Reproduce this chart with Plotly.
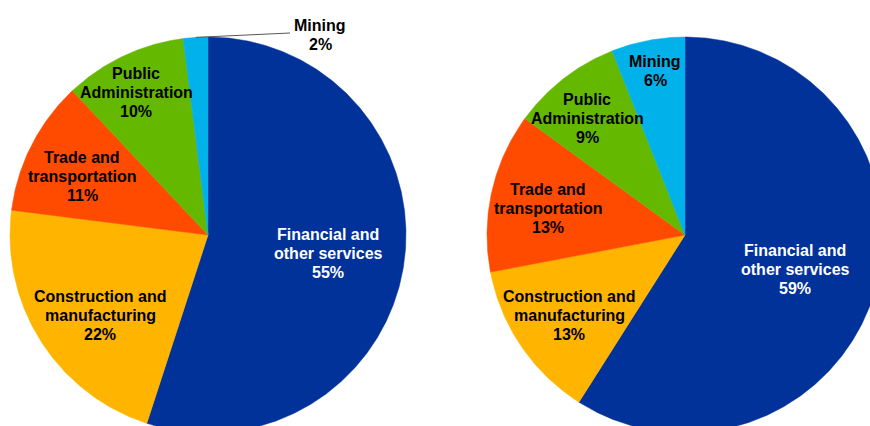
import numpy as np
import plotly.graph_objects as go

# Sector breakdown shown in the two pies (percent of total)
sectors = ["Financial and other services", "Construction and manufacturing",
           "Trade and transportation", "Public Administration", "Mining"]
label_lines = [["Financial and", "other services"],
               ["Construction and", "manufacturing"],
               ["Trade and", "transportation"],
               ["Public", "Administration"],
               ["Mining"]]
left_shares = [55, 22, 11, 10, 2]
right_shares = [59, 13, 13, 9, 6]
colors = ["#003299", "#FFB400", "#FF4B00", "#65B800", "#00B1EA"]
text_colors = ["white", "black", "black", "black", "black"]

# Layout of the two pies, in pixel units of the 870x426 canvas
W, H = 870, 426
RADIUS = 198
pies = [
    dict(shares=left_shares, center=(208, 235),
         labels=[(328, 253), (100, 315), (82, 176), (136, 92), (320, 35)],
         leader=4),
    dict(shares=right_shares, center=(685, 235),
         labels=[(795, 269), (569, 315), (548, 208), (587, 118), (655, 71)],
         leader=None),
]
LINE_GAP = 19
FONT = dict(family="Liberation Sans, Arial, sans-serif", size=16)

fig = go.Figure()
annotations = []


def point(center, angle_deg, r):
    a = np.radians(angle_deg)
    return center[0] + r * np.sin(a), center[1] - r * np.cos(a)


for pie in pies:
    cx, cy = pie["center"]
    total = sum(pie["shares"])
    start = 0.0
    mids = []
    for i, share in enumerate(pie["shares"]):
        sweep = 360.0 * share / total
        angles = np.linspace(start, start + sweep, max(int(sweep * 2), 4))
        xs = [cx] + [cx + RADIUS * np.sin(np.radians(a)) for a in angles] + [cx]
        ys = [cy] + [cy - RADIUS * np.cos(np.radians(a)) for a in angles] + [cy]
        fig.add_trace(go.Scatter(
            x=xs, y=ys, mode="lines", fill="toself",
            fillcolor=colors[i], line=dict(color=colors[i], width=0.5),
            name=sectors[i], hoverinfo="name", showlegend=False))
        mids.append(start + sweep / 2)
        start += sweep

    for i, share in enumerate(pie["shares"]):
        lines = label_lines[i] + [f"{share}%"]
        lx, ly = pie["labels"][i]
        n = len(lines)
        for k, txt in enumerate(lines):
            annotations.append(dict(
                x=lx, y=ly + (k - (n - 1) / 2) * LINE_GAP,
                xref="x", yref="y", text=f"<b>{txt}</b>", showarrow=False,
                xanchor="center", yanchor="middle",
                font=dict(FONT, color=text_colors[i])))

    if pie["leader"] is not None:
        j = pie["leader"]
        x0, y0 = point(pie["center"], mids[j], RADIUS)
        lx, ly = pie["labels"][j]
        fig.add_trace(go.Scatter(
            x=[x0, lx - 33, lx - 30], y=[y0, ly - 2, ly - 2], mode="lines",
            line=dict(color="#595959", width=1), hoverinfo="skip",
            showlegend=False))

fig.update_layout(
    width=W, height=H,
    margin=dict(l=0, r=0, t=0, b=0),
    paper_bgcolor="white", plot_bgcolor="white",
    xaxis=dict(range=[0, W], visible=False, fixedrange=True),
    yaxis=dict(range=[H, 0], visible=False, fixedrange=True),
    annotations=annotations,
)

fig.write_html("out.html")
